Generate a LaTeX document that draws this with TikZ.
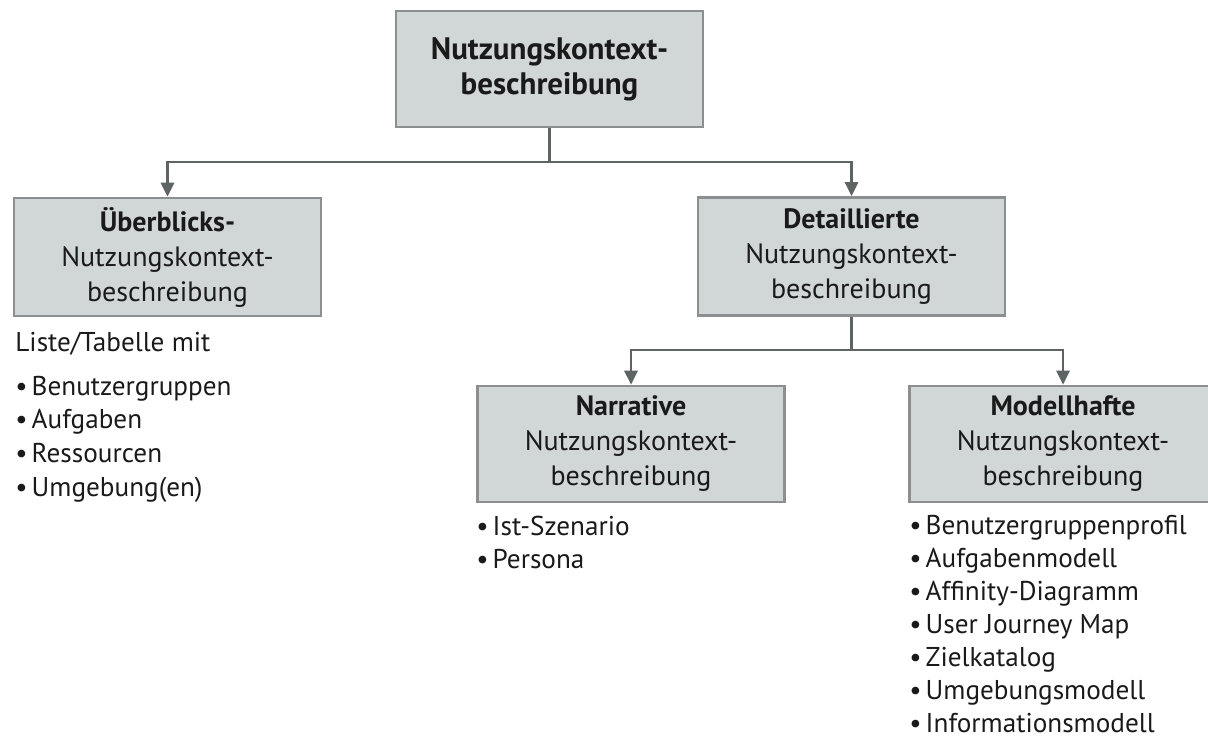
\documentclass[tikz,border=0pt]{standalone}
\usepackage{fontspec}
\setmainfont{PT Sans}
\usetikzlibrary{arrows.meta}
\definecolor{boxfill}{HTML}{D1D6D7}
\definecolor{boxline}{HTML}{8C8F8F}
\definecolor{connline}{HTML}{5E6364}
\definecolor{txt}{HTML}{1A1A1A}
\begin{document}
\begin{tikzpicture}[x=0.5pt, y=-0.5pt,
  box/.style={draw=boxline, line width=1.3pt, fill=boxfill, text=txt,
    minimum width=153.5pt, minimum height=59pt, align=center, inner sep=0pt,
    font=\fontsize{14}{17.5}\selectfont},
  topbox/.style={box, minimum height=58pt, font=\fontsize{15.5}{17.5}\selectfont\bfseries},
  conn/.style={draw=connline, line width=1.4pt,
    -{Triangle[width=6.5pt,length=7pt]}},
  item/.style={anchor=base west, inner sep=0pt, text=txt,
    font=\fontsize{13.6}{16}\selectfont}
]
\useasboundingbox (0,0) rectangle (1208,737);

% boxes
\node[topbox] (top) at (549.5,69) {Nutzungskontext-\\beschreibung};
\node[box] (ov) at (167.5,257) {\textbf{Überblicks-}\\Nutzungskontext-\\beschreibung};
\node[box] (de) at (851.5,256.5) {\textbf{Detaillierte}\\Nutzungskontext-\\beschreibung};
\node[box, minimum height=58pt] (na) at (631,444) {\textbf{Narrative}\\Nutzungskontext-\\beschreibung};
\node[box, minimum height=58pt] (mo) at (1063,444) {\textbf{Modellhafte}\\Nutzungskontext-\\beschreibung};

% connectors
\coordinate (j1) at (549.5,162);
\coordinate (j2) at (851.5,350);
\draw[conn] (top.south) -- (j1) -| (ov.north);
\draw[conn] (j1) -| (de.north);
\draw[conn] (de.south) -- (j2) -| (na.north);
\draw[conn] (j2) -| (mo.north);

% lists
\node[item] (ovhead) at (15,351) {Liste/Tabelle mit};
\foreach \t [count=\i] in {Benutzergruppen,Aufgaben,Ressourcen,Umgebung(en)}
  \node[item] (ov\i) at (15,{395+33.7*(\i-1)}) {•\hspace{2pt}\t};
\foreach \t [count=\i] in {Ist-Szenario,Persona}
  \node[item] (na\i) at (476,{535+33.7*(\i-1)}) {•\hspace{2pt}\t};
\foreach \t [count=\i] in {Benutzergruppenprofil,Aufgabenmodell,Affinity-Diagramm,User Journey Map,Zielkatalog,Umgebungsmodell,Informationsmodell}
  \node[item] (mo\i) at (909,{534+33*(\i-1)}) {•\hspace{2pt}\t};
\end{tikzpicture}
\end{document}
